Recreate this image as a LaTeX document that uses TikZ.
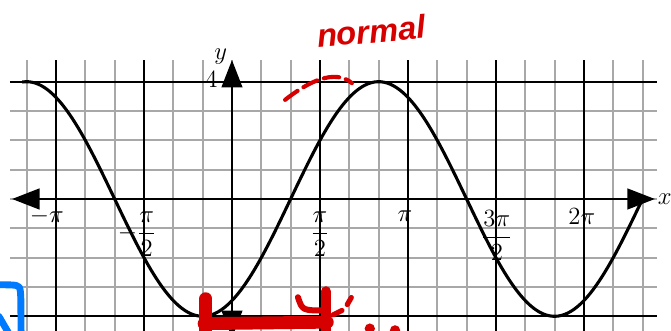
\documentclass[tikz,border=0pt]{standalone}
\usepackage{amsmath}
\usepackage{fontspec}
\usetikzlibrary{arrows.meta}
\newfontfamily\handfont{Liberation Sans}
\definecolor{gridgray}{rgb}{0.66,0.66,0.66}
\definecolor{inkred}{rgb}{0.84,0.0,0.0}
\definecolor{inkblue}{rgb}{0.0,0.48,1.0}
\tikzset{
  finegrid/.style={
    draw=gridgray,
    line width=1.1pt
  },
  coarsegrid/.style={
    draw=black,
    line width=1pt
  },
  axis/.style={
    line width=1.45pt,
    {Triangle[length=16pt,width=12pt]}-{Triangle[length=16pt,width=12pt]}
  },
  wave/.style={
    line width=1.8pt,
    line join=round
  },
  ticklabel/.style={
    font=\fontsize{14}{16}\selectfont,
    inner sep=0pt
  },
  redpen/.style={
    draw=inkred,
    line width=6pt,
    line cap=round,
    line join=round
  },
  bluepen/.style={
    draw=inkblue,
    line width=4pt,
    line cap=round,
    line join=round
  }
}

\begin{document}
\begin{tikzpicture}[x=0.6cm,y=0.6cm]
\clip (-7.91,-4.5) rectangle (14.97,6.785);
\foreach \i in {-7,...,14} \draw[finegrid] (\i,-4.8) -- (\i,4.74);
\foreach \j in {-3,...,3} \draw[finegrid] (-7.57,\j) -- (14.49,\j);
\foreach \i in {-6,-3,3,6,9,12} \draw[coarsegrid] (\i,-4.8) -- (\i,4.74);
\foreach \j in {-4,4} \draw[coarsegrid] (-7.57,\j) -- (14.49,\j);
\draw[wave] plot[domain=-7.15:14,samples=200,smooth] (\x,{4*sin((\x-2)*30)});
\coordinate (xleft) at (-7.5,0);
\coordinate (xright) at (14.42,0);
\coordinate (ybottom) at (0,-4.74);
\coordinate (ytop) at (0,4.74);
\draw[axis] (xleft) -- (xright);
\draw[axis] (ybottom) -- (ytop);
\node[ticklabel] (mpi) at (-6.31,-0.58) {$-\pi$};
\node[ticklabel] (mhalfpi) at (-3.24,-1.2) {$-\dfrac{\pi}{2}$};
\node[ticklabel] (halfpi) at (3,-1.2) {$\dfrac{\pi}{2}$};
\node[ticklabel] (pi) at (5.9,-0.58) {$\pi$};
\node[ticklabel] (threehalfpi) at (9.03,-1.25) {$\dfrac{3\pi}{2}$};
\node[ticklabel] (twopi) at (11.93,-0.6) {$2\pi$};
\node[ticklabel] (xlab) at (14.76,0) {$x$};
\node[ticklabel] (ylab) at (-0.38,4.84) {$y$};
\node[ticklabel,anchor=east] (ymax) at (-0.48,4.06) {$4$};
\node[text=inkred,font=\handfont\bfseries\itshape\fontsize{19}{20}\selectfont,rotate=5] (note) at (4.75,5.72) {normal};
\draw[redpen,line width=2.4pt,dash pattern=on 9pt off 4pt] (1.81,3.38) .. controls (2.6,4.0) and (3.5,4.45) .. (4.09,3.95);
\draw[redpen,line width=7.5pt] (-0.89,-3.4) -- (-0.89,-4.7);
\draw[redpen,line width=7.5pt] (-0.95,-4.25) -- (3.25,-4.2);
\draw[redpen] (3.2,-3.15) -- (3.2,-4.7);
\draw[redpen,line width=3.5pt] (2.25,-3.35) .. controls (2.4,-3.8) .. (3.15,-3.8);
\draw[redpen,line width=3pt] (3.45,-3.95) -- (3.75,-3.8);
\draw[redpen,line width=3pt] (3.93,-3.6) -- (4.07,-3.36);
\fill[inkred] (4.7,-4.42) circle (3pt);
\fill[inkred] (5.56,-4.48) circle (3pt);
\draw[bluepen] (-8,-2.92) -- (-7.55,-2.93) .. controls (-7.22,-2.95) .. (-7.2,-3.4) -- (-7.19,-4.7);
\draw[bluepen] (-7.95,-4.0) -- (-7.6,-4.6);
\end{tikzpicture}
\end{document}
